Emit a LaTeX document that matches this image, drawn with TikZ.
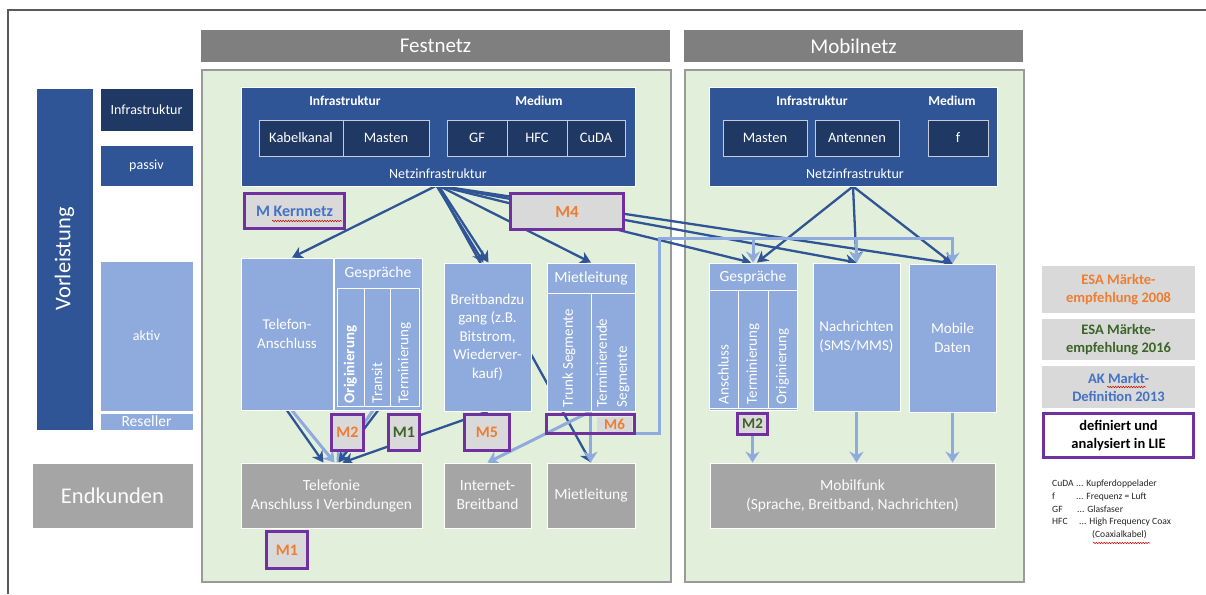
\documentclass[tikz,border=0pt]{standalone}
\usepackage{fontspec}
\setmainfont{Carlito}
\usetikzlibrary{arrows.meta,decorations.pathmorphing}
\pgfdeclarelayer{back}
\pgfdeclarelayer{wires}
\pgfsetlayers{back,wires,main}

\definecolor{cDark}{HTML}{2F5597}
\definecolor{cNavy}{HTML}{203864}
\definecolor{cLight}{HTML}{8FAADC}
\definecolor{cGray}{HTML}{A5A5A5}
\definecolor{cHead}{HTML}{7F7F7F}
\definecolor{cPanel}{HTML}{E2EFDA}
\definecolor{cPanelLine}{HTML}{9A9A9A}
\definecolor{cPurple}{HTML}{7030A0}
\definecolor{cOrange}{HTML}{ED7D31}
\definecolor{cGreen}{HTML}{3B6426}
\definecolor{cBlueT}{HTML}{4472C4}
\definecolor{cTag}{HTML}{D9D9D9}
\newcommand\fsz[2]{\fontsize{#1}{#2}\selectfont}

\begin{document}
\begin{tikzpicture}[x=1pt,y=-1pt,inner sep=0pt,
  % rect={x1}{y1}{x2}{y2}: a node filling the given corner box
  rect/.style n args={4}{minimum width={(#3)-(#1)}, minimum height={(#4)-(#2)},
    at={({((#1)+(#3))/2},{((#2)+(#4))/2})}},
  panel/.style={fill=cPanel, draw=cPanelLine, line width=1.3pt},
  headbar/.style={fill=cHead, text=white, font=\fsz{21}{23}},
  dbox/.style={fill=cDark, draw=white, line width=0.8pt, text=white},
  nbox/.style={fill=cNavy, draw=white!75!cNavy, line width=0.9pt, text=white, font=\fsz{14.5}{16}},
  lbox/.style={fill=cLight, draw=white, line width=0.9pt, text=white, align=center, font=\fsz{15}{19}},
  ebox/.style={fill=cGray, draw=white, line width=0.9pt, text=white!96!cGray, align=center, font=\fsz{15.5}{19}},
  wlabel/.style={text=white, font=\fsz{14}{16}},
  blabel/.style={text=white, font=\bfseries\fsz{13.5}{16}},
  vtext/.style={rotate=90, anchor=west, text=white, font=\fsz{15}{19}, align=left},
  tag/.style={fill=cTag, draw=cPurple, line width=3.4pt, font=\bfseries\fsz{16}{18}},
  legend/.style={fill=cTag, font=\bfseries\fsz{14.5}{18}, align=center},
  darr/.style={draw=cDark, line width=2.3pt, -{Stealth[length=11pt,width=12.5pt,inset=3.5pt]}},
  larr/.style={draw=cLight, line width=3pt, -{Stealth[length=11pt,width=14pt,inset=3.5pt]}},
  squiggle/.style={draw=red!80!black, line width=0.5pt, decorate,
    decoration={snake, amplitude=0.7pt, segment length=2.6pt}}]

\useasboundingbox (0,0) rectangle (1206,594);

% ---------- page, frame and panels ----------
\begin{pgfonlayer}{back}
\path[fill=white] (0,0) rectangle (1206,594);
\draw[black!65, line width=1.2pt] (8,594) -- (8,10) -- (1206,10);
\node[panel, rect={202}{70}{671}{582}] (pfest) {};
\node[panel, rect={685}{70}{1024}{582}] (pmob) {};
\end{pgfonlayer}
\node[headbar, rect={201}{30}{670}{62}] (hfest) {Festnetz};
\node[headbar, rect={684}{30}{1023}{62}] (hmob) {Mobilnetz};

% ---------- left column ----------
\node[dbox, rect={36}{88}{93}{430}] (vorl) {};
\node[rotate=90, text=white, font=\fsz{22.5}{24}] (vorlt) at (vorl.center) {Vorleistung};
\node[nbox, draw=white, rect={100}{88}{193}{131}, font=\fsz{14}{16}] (linfra) {Infrastruktur};
\node[dbox, rect={100}{145}{193}{186}, font=\fsz{14}{16}] (lpass) {passiv};
\node[lbox, rect={100}{261}{193}{411}, font=\fsz{14}{16}] (lakt) {aktiv};
\node[lbox, rect={100}{413}{193}{430}, font=\fsz{15.5}{16}] (lres) {Reseller};
\node[ebox, rect={32}{463}{193}{528}, font=\fsz{22.5}{24}] (lend) {Endkunden};

% ---------- Festnetz: network infrastructure ----------
\node[dbox, rect={241}{87}{635}{186}] (fnetz) {};
\node[blabel] (fnetzi) at (345,101) {Infrastruktur};
\node[blabel] (fnetzm) at (539,101) {Medium};
\node[nbox, rect={259}{120}{343}{156}] (fkab) {Kabelkanal};
\node[nbox, rect={343}{120}{429}{156}] (fmast) {Masten};
\node[nbox, rect={447}{120}{507}{156}] (fgf) {GF};
\node[nbox, rect={507}{120}{567}{156}] (fhfc) {HFC};
\node[nbox, rect={567}{120}{625}{156}] (fcuda) {CuDA};
\node[wlabel] (fnetzl) at (438,174) {Netzinfrastruktur};

% ---------- Festnetz: wholesale products ----------
\node[lbox, rect={241}{258}{333}{410}] (telan) {Telefon-\\Anschluss};
\node[lbox, rect={334}{258}{422}{410}] (fgesp) {};
\node[text=white, font=\fsz{15.5}{17}] (fgesph) at (378,273) {Gespräche};
\node[lbox, rect={337}{288}{364}{406}] (forig) {};
\node[lbox, rect={364}{288}{390}{406}] (ftrans) {};
\node[lbox, rect={390}{288}{419}{406}] (fterm) {};
\node[vtext, font=\bfseries\fsz{15}{19}] (forigt) at ([yshift=3pt]forig.south) {Originierung};
\node[vtext] (ftranst) at ([yshift=3pt]ftrans.south) {Transit};
\node[vtext] (ftermt) at ([yshift=3pt]fterm.south) {Terminierung};

\node[lbox, rect={444}{263}{531}{411}, font=\fsz{15}{18.5}] (bbz) {Breitbandzu\\gang (z.B.\\Bitstrom,\\Wiederver-\\kauf)};

\node[lbox, rect={547}{263}{635}{411}] (mlg) {};
\node[lbox, rect={547}{263}{635}{293}, font=\fsz{15.5}{17}] (mlh) {Mietleitung};
\node[lbox, rect={547}{293}{591}{411}] (trunk) {};
\node[lbox, rect={591}{293}{635}{411}] (termseg) {};
\node[vtext] (trunkt) at ([yshift=4pt]trunk.south) {Trunk Segmente};
\node[vtext, font=\fsz{15}{20}] (termsegt) at ([yshift=4pt]termseg.south) {Terminierende\\Segmente};

% ---------- Festnetz: retail markets ----------
\node[ebox, rect={241}{463}{422}{528}] (tel) {Telefonie\\Anschluss I Verbindungen};
\node[ebox, rect={444}{463}{531}{528}] (inet) {Internet-\\Breitband};
\node[ebox, rect={547}{463}{635}{528}] (mlend) {Mietleitung};

% ---------- Mobilnetz ----------
\node[dbox, rect={709}{87}{997}{186}] (mnetz) {};
\node[blabel] (mnetzi) at (812,101) {Infrastruktur};
\node[blabel] (mnetzm) at (952,101) {Medium};
\node[nbox, rect={723}{120}{807}{156}] (mmast) {Masten};
\node[nbox, rect={815}{120}{899}{156}] (mant) {Antennen};
\node[nbox, rect={928}{120}{988}{156}] (mfreq) {f};
\node[wlabel] (mnetzl) at (855,174) {Netzinfrastruktur};

\node[lbox, rect={709}{263}{797}{410}] (mgesp) {};
\node[text=white, font=\fsz{15.5}{17}] (mgesph) at (753,277) {Gespräche};
\node[lbox, rect={709}{290}{738}{408}] (manschl) {};
\node[lbox, rect={738}{290}{768}{408}] (mtermc) {};
\node[lbox, rect={768}{290}{797}{408}] (morigc) {};
\node[vtext] (manschlt) at ([yshift=4pt]manschl.south) {Anschluss};
\node[vtext] (mtermt) at ([yshift=4pt]mtermc.south) {Terminierung};
\node[vtext] (morigt) at ([yshift=4pt]morigc.south) {Originierung};
\node[lbox, rect={813}{263}{900}{411}] (nach) {Nachrichten\\(SMS/MMS)};
\node[lbox, rect={909}{264}{996}{412}] (mdat) {Mobile\\Daten};
\node[ebox, rect={710}{463}{995}{528}] (mfunk) {Mobilfunk\\(Sprache, Breitband, Nachrichten)};

% ---------- market tags ----------
\node[tag, rect={244.5}{193.5}{344.5}{228.5}, text=cBlueT] (mkern) {M Kernnetz};
\node[tag, rect={510.5}{193.5}{623.5}{229.5}, text=cOrange, font=\bfseries\fsz{17}{18}] (m4) {M4};
\node[tag, rect={331.5}{414.5}{363.5}{450.5}, text=cOrange] (m2f) {M2};
\node[tag, rect={388.5}{414.5}{419.5}{450.5}, text=cGreen] (m1f) {M1};
\node[tag, rect={464.5}{414.5}{509.5}{450.5}, text=cOrange] (m5) {M5};
\node[tag, fill=none, rect={546.5}{414.5}{634.5}{433.5}] (m6) {};
\node[fill=cTag, rect={597}{417}{632}{432}, text=cOrange, font=\bfseries\fsz{15}{16}] (m6t) {M6};
\node[tag, rect={266.5}{531.5}{307.5}{568.5}, text=cOrange] (m1e) {M1};
\node[tag, rect={737.5}{413.5}{767.5}{434.5}, text=cGreen, font=\bfseries\fsz{15}{16}] (m2m) {M2};
\draw[squiggle] (272,221) -- (342,221);

% ---------- legend ----------
\node[legend, rect={1042}{266}{1195}{313}, text=cOrange] (lg1) {ESA Märkte-\\empfehlung 2008};
\node[legend, rect={1042}{319}{1195}{360}, text=cGreen] (lg2) {ESA Märkte-\\empfehlung 2016};
\node[legend, rect={1042}{366}{1195}{408}, text=cBlueT] (lg3) {AK Markt-\\Definition 2013};
\node[legend, fill=white, draw=cPurple, line width=3.4pt, text=black, rect={1043.5}{413.5}{1193.5}{457.5}] (lg4) {definiert und\\analysiert in LIE};
\draw[squiggle] (1107,387) -- (1146,387);

\node[anchor=north west, align=left, text=black!85, font=\fsz{9.6}{12.6}] (abbr) at (1052,480)
  {\makebox[24pt][l]{CuDA}... Kupferdoppelader\\
   \makebox[24pt][l]{f}... Frequenz = Luft\\
   \makebox[25pt][l]{GF}... Glasfaser\\
   \makebox[27pt][l]{HFC}... High Frequency Coax\\
   \hspace{40pt}(Coaxialkabel)};
\draw[squiggle] (1093,543) -- (1150,543);

% ---------- connectors ----------
\begin{pgfonlayer}{wires}
% Festnetz infrastructure to wholesale products
\draw[darr] ([xshift=-3]fnetz.south) -- ([xshift=5]telan.north);
\draw[darr] ([xshift=-1]fnetz.south) -- ([xshift=-4]bbz.north);
\draw[darr] ([xshift=1]fnetz.south) -- ([xshift=1]bbz.north);
\draw[darr] ([xshift=2]fnetz.south) -- (mlg.north);
\draw[darr] (fnetz.south) -- (mlend.north);
\draw[darr] ([xshift=3]fnetz.south) -- ([xshift=-2]mgesp.north);
\draw[darr] ([xshift=4]fnetz.south) -- (nach.north);
\draw[darr] ([xshift=5]fnetz.south) -- (mdat.north);
% Mobilnetz infrastructure
\draw[darr] (mnetz.south) -- ([xshift=4]mgesp.north);
\draw[darr] (mnetz.south) -- (nach.north);
\draw[darr] (mnetz.south) -- (mdat.north);
% Festnetz wholesale to retail
\draw[larr] ([xshift=5]telan.south) -- ([xshift=3]tel.north);
\draw[darr] (telan.south) -- ([xshift=-8]tel.north);
\draw[larr] ([xshift=-5]fgesp.south) -- ([xshift=5]tel.north);
\draw[darr] (fgesp.south) -- ([xshift=7]tel.north);
\draw[darr] (bbz.south) -- ([xshift=11]tel.north);
\draw[larr] (termseg.south west) -- (inet.north);
\draw[larr] (termseg.south west) -- (termseg.south west |- mlend.north);
% leased-line segments feeding the mobile wholesale markets
\coordinate (lcorner) at (659,238);
\draw[larr] ([yshift=-9]m6.east) -| (lcorner) -| (mdat.north);
\draw[larr] (mgesp.north |- lcorner) -- (mgesp.north);
\draw[larr] (nach.north |- lcorner) -- (nach.north);
% Mobilnetz wholesale to retail
\draw[larr] (m2m.south) -- (m2m.south |- mfunk.north);
\draw[larr] (nach.south) -- (nach.south |- mfunk.north);
\draw[larr] (mdat.south) -- (mdat.south |- mfunk.north);
\end{pgfonlayer}
\end{tikzpicture}
\end{document}
